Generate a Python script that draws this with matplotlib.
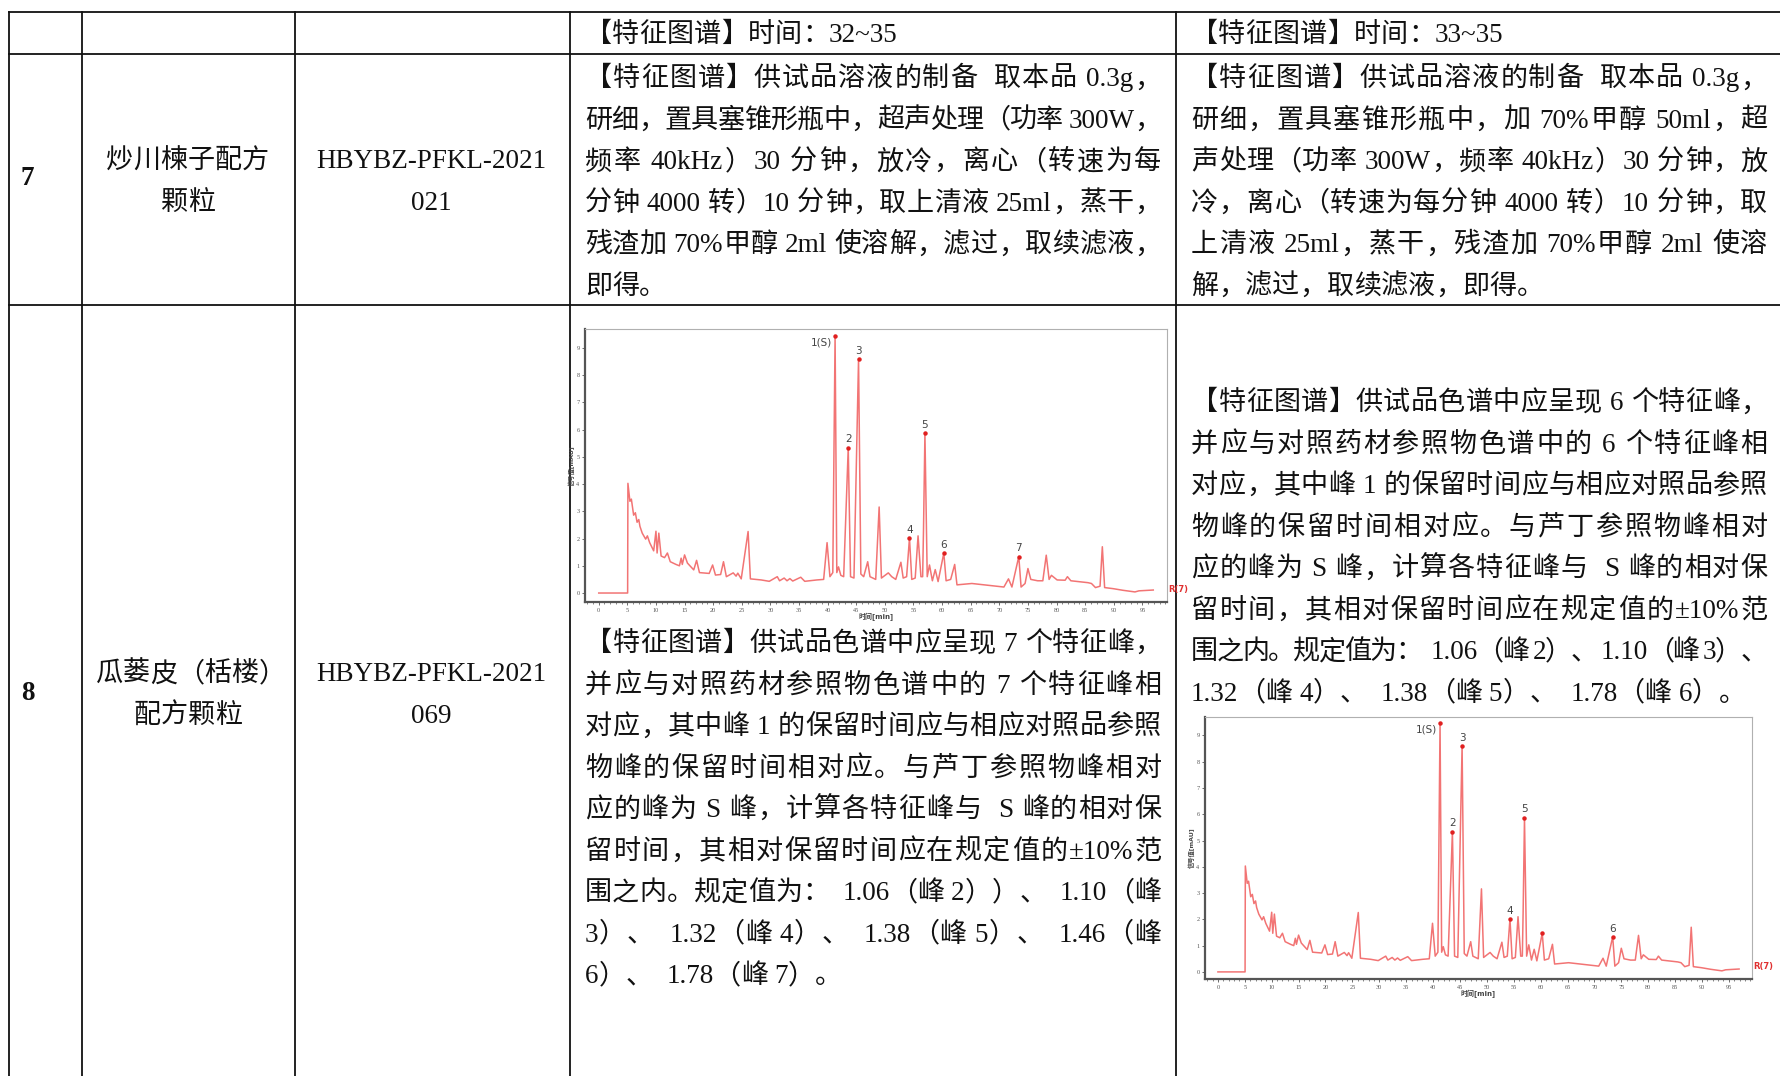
import numpy as np
import matplotlib.pyplot as plt
from matplotlib.ticker import MultipleLocator
from matplotlib.patches import Rectangle

# Latin glyphs from a Times-like face, CJK falls back to Noto
plt.rcParams['font.family'] = ['Liberation Serif', 'Noto Sans CJK SC']

# chromatogram (same run in both cells): time [min], signal
rt = [0, 5.05, 5.1, 5.45, 5.7, 6.1, 6.4, 6.7, 7.0, 7.2, 7.6, 8.2, 8.5, 8.9, 9.6, 10.0, 10.2,
      10.5, 10.9, 11.5, 12.0, 12.5, 13.5, 14.1, 14.4, 14.6, 15.0, 15.5, 16.6, 17.1, 17.6,
      19.3, 19.9, 20.4, 21.3, 21.8, 22.3, 23.5, 24.0, 24.3, 24.9, 26.1, 26.5, 28.4, 29.8,
      31.2, 31.6, 32.4, 32.9, 33.4, 33.9, 35.3, 36.0, 38.1, 39.3, 39.9, 40.4, 40.9, 41.3,
      41.6, 41.9, 42.3, 42.8, 43.6, 44.0, 44.6, 45.4, 45.8, 46.3, 47.0, 47.4, 47.9, 48.4,
      49.0, 49.4, 50.6, 51.2, 51.9, 52.8, 53.2, 53.8, 54.3, 54.7, 55.3, 55.8, 56.3, 56.6,
      56.75, 57.0, 57.4, 57.8, 58.3, 58.8, 59.3, 60.3, 60.7, 61.5, 62.2, 62.6, 65.2, 68.7,
      70.8, 71.6, 72.2, 73.4, 73.8, 74.5, 75.0, 75.5, 76.7, 77.6, 78.2, 78.7, 79.1, 80.1,
      81.5, 81.9, 82.5, 84.7, 85.5, 86.1, 86.8, 87.6, 88.0, 88.4, 89.9, 91.6, 93.7, 94.4, 96.9]
sig = [0, 0, 4.03, 3.37, 3.45, 2.86, 2.95, 2.6, 2.7, 2.45, 2.2, 1.98, 2.1, 1.85, 1.55, 2.27, 1.47,
       2.2, 1.36, 1.3, 1.47, 1.15, 1.05, 1.0, 1.28, 1.05, 1.4, 1.1, 0.85, 1.2, 0.75,
       0.72, 1.03, 0.66, 0.68, 1.15, 0.6, 0.74, 0.62, 0.73, 0.52, 2.26, 0.52, 0.48, 0.43,
       0.6, 0.45, 0.55, 0.45, 0.53, 0.44, 0.58, 0.43, 0.48, 0.5, 1.85, 0.6, 0.75, 9.46,
       0.75, 0.96, 0.65, 0.6, 5.34, 0.6, 0.55, 8.6, 0.7, 0.6, 1.15, 0.6, 0.55, 0.5,
       3.16, 0.55, 0.74, 0.6, 0.5, 1.13, 0.55, 0.6, 2.02, 0.5, 0.55, 2.1, 0.6, 0.6,
       2.3, 5.87, 0.6, 1.03, 0.45, 0.86, 0.42, 1.47, 0.45, 0.5, 1.05, 0.3, 0.35, 0.27,
       0.22, 0.52, 0.22, 1.34, 0.22, 0.35, 0.9, 0.5, 0.45, 0.45, 1.39, 0.5, 0.65, 0.48,
       0.47, 0.6, 0.45, 0.4, 0.38, 0.35, 0.2, 0.25, 1.7, 0.2, 0.16, 0.1, 0.04, 0.08, 0.11]

peak_t = [41.3, 43.6, 45.4, 54.3, 57.0, 60.3, 73.4]
peaks_a = ['1(S)', '2', '3', '4', '5', '6', '7']   # row 8, column 4
peaks_b = ['1(S)', '2', '3', '4', '5', '', '6']    # row 8, column 5

# table text
top_c4 = '【特征图谱】时间：32~35'
top_c5 = '【特征图谱】时间：33~35'
r7_no = '7'
r7_name = ['炒川楝子配方', '颗粒']
r7_code = ['HBYBZ-PFKL-2021', '021']
r7_c4 = ['【特征图谱】供试品溶液的制备  取本品 0.3g，',
         '研细，置具塞锥形瓶中，超声处理（功率 300W，',
         '频率 40kHz）30 分钟，放冷，离心（转速为每',
         '分钟 4000 转）10 分钟，取上清液 25ml，蒸干，',
         '残渣加 70%甲醇 2ml 使溶解，滤过，取续滤液，',
         '即得。']
r7_c5 = ['【特征图谱】供试品溶液的制备  取本品 0.3g，',
         '研细，置具塞锥形瓶中，加 70%甲醇 50ml，超',
         '声处理（功率 300W，频率 40kHz）30 分钟，放',
         '冷，离心（转速为每分钟 4000 转）10 分钟，取',
         '上清液 25ml，蒸干，残渣加 70%甲醇 2ml 使溶',
         '解，滤过，取续滤液，即得。']
r8_no = '8'
r8_name = ['瓜蒌皮（栝楼）', '配方颗粒']
r8_code = ['HBYBZ-PFKL-2021', '069']
r8_c4 = ['【特征图谱】供试品色谱中应呈现 7 个特征峰，',
         '并应与对照药材参照物色谱中的 7 个特征峰相',
         '对应，其中峰 1 的保留时间应与相应对照品参照',
         '物峰的保留时间相对应。与芦丁参照物峰相对',
         '应的峰为 S 峰，计算各特征峰与  S 峰的相对保',
         '留时间，其相对保留时间应在规定值的±10%范',
         '围之内。规定值为：  1.06（峰 2））、  1.10（峰',
         '3）、  1.32（峰 4）、  1.38（峰 5）、  1.46（峰',
         '6）、  1.78（峰 7）。']
r8_c5 = ['【特征图谱】供试品色谱中应呈现 6 个特征峰，',
         '并应与对照药材参照物色谱中的 6 个特征峰相',
         '对应，其中峰 1 的保留时间应与相应对照品参照',
         '物峰的保留时间相对应。与芦丁参照物峰相对',
         '应的峰为 S 峰，计算各特征峰与  S 峰的相对保',
         '留时间，其相对保留时间应在规定值的±10%范',
         '围之内。规定值为：  1.06（峰 2）、 1.10（峰 3）、',
         '1.32（峰 4）、  1.38（峰 5）、  1.78（峰 6）。']

W, H = 1780, 1076
fig = plt.figure(figsize=(W / 100, H / 100), dpi=100)
fig.patch.set_facecolor('white')

# background axes in pixel coords for the table
bg = fig.add_axes([0, 0, 1, 1])
bg.set_xlim(0, W)
bg.set_ylim(H, 0)
bg.axis('off')

lc = '#111111'
for y in [12, 54, 305]:
    bg.plot([9, W], [y, y], color=lc, lw=1.3)
for x in [9, 82, 295, 570, 1176]:
    bg.plot([x, x], [12, H], color=lc, lw=1.3)

fs = 19.5
em = fs * 100 / 72
step = 41.5
tc = '#111111'
rend = fig.canvas.get_renderer()
_w = {}


def inkw(s):
    # width matplotlib gives a string (ink box)
    if s not in _w:
        t = bg.text(0, 0, s, fontsize=fs)
        _w[s] = t.get_window_extent(rend).width
        t.remove()
    return _w[s]


def adv(tok):
    return inkw('中' + tok + '中') - inkw('中中')


def lsb(tok):
    return inkw('中' + tok) - inkw(tok) - em + 0.05 * em


def tokens(s):
    out, buf = [], ''
    for ch in s:
        if ch == ' ' or ord(ch) > 0x2000:
            if buf:
                out.append(buf)
                buf = ''
            out.append(ch)
        else:
            buf += ch
    if buf:
        out.append(buf)
    return out


def put_line(x, yc, s, width=None, ha='left'):
    # Word-like layout: CJK chars one by one, stretched to the cell width
    toks = tokens(s)
    advs = [adv(t) for t in toks]
    offs = [lsb(t) for t in toks]
    # first glyph starts at its ink, as in the reference
    advs[0] -= offs[0]
    offs[0] = 0
    total = sum(advs)
    gap = 0
    if width is not None and len(toks) > 1:
        gap = (width - total) / (len(toks) - 1)
        total = width
    p = x - total / 2 if ha == 'center' else x
    yb = yc + 0.36 * em
    for t, a, o in zip(toks, advs, offs):
        if t != ' ':
            bg.text(p + o, yb, t, fontsize=fs, ha='left', va='baseline', color=tc)
        p += a + gap


def para(x, y0, lines, width=None, ha='left'):
    for i, s in enumerate(lines):
        last = i == len(lines) - 1
        put_line(x, y0 + i * step, s, None if last else width, ha)


dy = -0.5
para(585, 33 + dy, [top_c4])
para(1191, 33 + dy, [top_c5])

bg.text(21, 179 + dy, r7_no, fontsize=fs, fontweight='bold', va='center', color=tc)
para(187, 159 + dy, r7_name, ha='center')
para(431, 159 + dy, r7_code, ha='center')
para(585, 77 + dy, r7_c4, width=575)
para(1191, 77 + dy, r7_c5, width=575)

bg.text(21, 694 + dy, r8_no, fontsize=fs, fontweight='bold', va='center', color=tc)
para(190, 672 + dy, r8_name[:1], ha='center')
para(187, 713.5 + dy, r8_name[1:], ha='center')
para(431, 672 + dy, r8_code, ha='center')
para(585, 642 + dy, r8_c4, width=575)
para(1191, 401 + dy, r8_c5, width=575)


def chrom(box, ylim, labels, clip_x):
    l, r, t, b = box
    ax = fig.add_axes([l / W, 1 - b / H, (r - l) / W, (b - t) / H])
    ax.plot(rt, sig, color='#f27474', lw=1.1)
    for pt, lab in zip(peak_t, labels):
        h = np.interp(pt, rt, sig)
        ax.plot(pt, h, 'o', color='#e02020', ms=2.2)
        if lab == '1(S)':
            ax.text(pt - 0.6, h - 0.25, lab, fontsize=7.5, ha='right', va='center',
                    color='#444444', family='DejaVu Sans')
        elif lab:
            ax.text(pt, h + 0.12, lab, fontsize=7.5, ha='center', va='bottom',
                    color='#444444', family='DejaVu Sans')
    ax.set_xlim(-2.4, 99.3)
    ax.set_ylim(*ylim)
    ax.xaxis.set_major_locator(MultipleLocator(5))
    ax.xaxis.set_minor_locator(MultipleLocator(1))
    ax.yaxis.set_major_locator(MultipleLocator(1))
    ax.tick_params(labelsize=4.5, colors='#555555', length=2, width=0.6, pad=2)
    ax.tick_params(which='minor', length=1.2, width=0.5, colors='#555555')
    for s in ['left', 'bottom']:
        ax.spines[s].set_color('#555555')
        ax.spines[s].set_linewidth(1.6)
    for s in ['top', 'right']:
        ax.spines[s].set_color('#b0b0b0')
        ax.spines[s].set_linewidth(0.8)
    ax.set_xlabel('时间[min]', fontsize=5, labelpad=0.5, color='#444444',
                  family=['DejaVu Sans', 'Noto Sans CJK SC'], fontweight='bold')
    ax.set_ylabel('信号值[mAU]', fontsize=4.5, labelpad=1, color='#444444',
                  family=['DejaVu Sans', 'Noto Sans CJK SC'], fontweight='bold')
    tag = ax.text(1.003, 0.03, 'R(7)', transform=ax.transAxes, fontsize=6, color='#e03030',
                  family='DejaVu Sans', fontweight='bold', va='bottom', ha='left')
    # the tag is cut by the cell border in the reference
    tag.set_clip_path(Rectangle((0, 0), clip_x, H, transform=bg.transData))
    return ax


chrom((585, 1167, 329, 602), (-0.33, 9.7), peaks_a, 1175)
chrom((1205, 1752, 717, 979), (-0.27, 9.7), peaks_b, W)

fig.savefig('out.png', dpi=100, facecolor='white')
